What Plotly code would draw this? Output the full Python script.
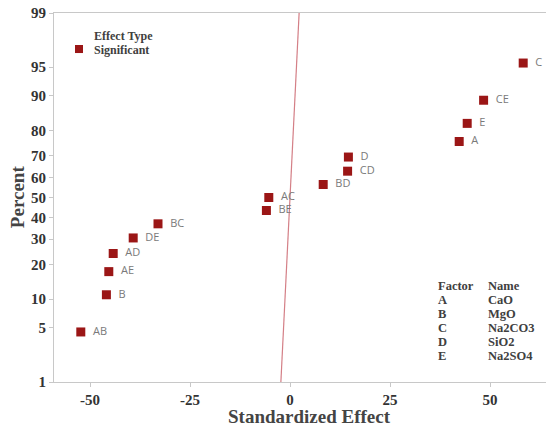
from statistics import NormalDist
import plotly.graph_objects as go

# ---- data ----
terms = ["AB", "B", "AE", "AD", "DE", "BC", "BE", "AC", "BD", "CD", "D", "A", "E", "CE", "C"]
effects = [-52.3, -45.9, -45.3, -44.2, -39.2, -33.0, -5.9, -5.3, 8.3, 14.4, 14.6, 42.3, 44.3, 48.4, 58.3]
percents = [4.5, 11.0, 17.5, 24.0, 30.5, 37.0, 43.5, 50.0, 56.5, 63.0, 69.5, 76.0, 82.5, 89.0, 95.5]
fit_mean = 0.0
fit_sd = 0.98
y_ticks = [1, 5, 10, 20, 30, 40, 50, 60, 70, 80, 90, 95, 99]
x_ticks = [-50, -25, 0, 25, 50]
factors = ["A", "B", "C", "D", "E"]
factor_names = ["CaO", "MgO", "Na2CO3", "SiO2", "Na2SO4"]

nd = NormalDist()
z = lambda p: nd.inv_cdf(p / 100.0)

zmin, zmax = z(1), z(99)
fig = go.Figure()

# fitted normal line
fig.add_trace(go.Scatter(
    x=[fit_mean + fit_sd * zmin, fit_mean + fit_sd * zmax],
    y=[zmin, zmax], mode="lines",
    line=dict(color="#d47f86", width=1.2), showlegend=False, hoverinfo="skip"))

fig.add_trace(go.Scatter(
    x=effects, y=[z(p) for p in percents], mode="markers+text",
    text=["\u2002" + t for t in terms], textposition="middle right",
    textfont=dict(family="Open Sans, DejaVu Sans", size=11, color="#7a7a7a"),
    marker=dict(symbol="square", size=9, color="#9b1616"),
    cliponaxis=False, showlegend=False))

serif = "Liberation Serif, Times New Roman, serif"
fig.update_layout(
    width=546, height=428, margin=dict(l=54, r=0, t=13, b=46),
    paper_bgcolor="white", plot_bgcolor="white",
    font=dict(family=serif, color="#333333"),
    xaxis=dict(range=[-59, 64], tickvals=x_ticks, ticktext=[f"<b>{v}</b>" for v in x_ticks],
               showgrid=False, zeroline=False, showline=True, linecolor="#c8c8c8",
               linewidth=1, mirror=True, ticks="outside", ticklen=4, tickcolor="#c8c8c8",
               tickfont=dict(family=serif, size=15, color="#333333")),
    yaxis=dict(range=[zmin, zmax], tickvals=[z(v) for v in y_ticks],
               ticktext=[f"<b>{v}</b>" for v in y_ticks],
               showgrid=False, zeroline=False, showline=True, linecolor="#c8c8c8",
               linewidth=1, ticks="outside", ticklen=4, tickcolor="#c8c8c8",
               tickfont=dict(family=serif, size=15, color="#333333")),
)

W, H = 492.0, 368.7
px = lambda v: (v - 54) / W
py = lambda v: (381.7 - v) / H

# axis titles
fig.add_annotation(xref="paper", yref="paper", x=px(309), y=py(416.5), xanchor="center",
                   yanchor="middle", text="<b>Standardized Effect</b>", showarrow=False,
                   font=dict(family=serif, size=19, color="#444444"))
fig.add_annotation(xref="paper", yref="paper", x=px(17), y=py(197), xanchor="center",
                   yanchor="middle", text="<b>Percent</b>", showarrow=False, textangle=-90,
                   font=dict(family=serif, size=19, color="#444444"))

# legend (manual)
fig.add_shape(type="rect", xref="paper", yref="paper",
              x0=px(75), x1=px(83), y0=py(53), y1=py(45),
              fillcolor="#9b1616", line=dict(width=0))
for txt, yy in [("Effect Type", 35.5), ("Significant", 49.5)]:
    fig.add_annotation(xref="paper", yref="paper", x=px(92), y=py(yy), xanchor="left",
                       yanchor="middle", text=f"<b>{txt}</b>", showarrow=False,
                       font=dict(family=serif, size=12, color="#404040"))

# factor table
rows = [("Factor", "Name")] + list(zip(factors, factor_names))
for i, (f, n) in enumerate(rows):
    yy = 285.7 + i * 14.1
    fig.add_annotation(xref="paper", yref="paper", x=px(436), y=py(yy), xanchor="left",
                       yanchor="middle", text=f"<b>{f}</b>", showarrow=False,
                       font=dict(family=serif, size=12.5, color="#404040"))
    fig.add_annotation(xref="paper", yref="paper", x=px(486), y=py(yy), xanchor="left",
                       yanchor="middle", text=f"<b>{n}</b>", showarrow=False,
                       font=dict(family=serif, size=12.5, color="#404040"))

fig.write_html("out.html")
